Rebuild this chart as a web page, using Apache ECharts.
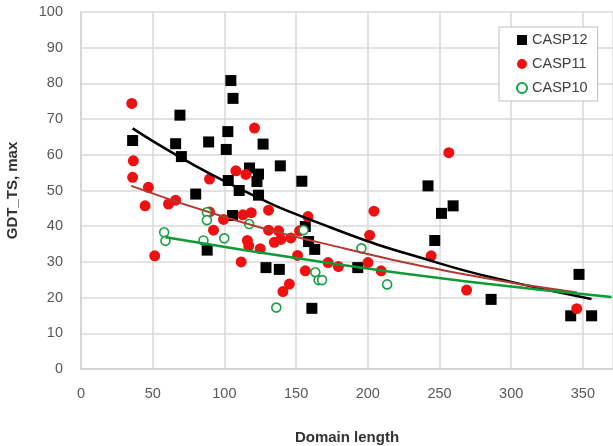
<!DOCTYPE html>
<html>
<head>
<meta charset="utf-8">
<script src="https://cdn.jsdelivr.net/npm/echarts@6/dist/echarts.min.js"></script>
<style>
  html, body { margin: 0; padding: 0; background: #fff; }
  #chart { width: 613px; height: 446px; }
</style>
</head>
<body>
<div id="chart"></div>
<script>
// points: [domain length, GDT_TS max]
const casp12 = [
  [36, 64], [69, 71.1], [66, 63.1], [70, 59.5], [80, 49], [89, 63.6], [88, 33.3],
  [104.5, 80.8], [106, 75.8], [102.4, 66.5], [101.3, 61.5], [102.7, 52.8], [105.7, 43],
  [110.3, 50], [117.5, 56.3], [127, 63], [123.8, 54.6], [122.7, 52.5], [123.8, 48.7],
  [139, 56.9], [154, 52.6], [156.4, 39.9], [158.7, 35.7], [163, 33.5], [129, 28.4],
  [138.3, 27.9], [161, 17], [193, 28.4], [242, 51.3], [251.4, 43.6], [259.5, 45.7],
  [246.7, 36], [286, 19.5], [347.3, 26.5], [341.5, 14.9], [356.1, 14.9]
];
const casp11 = [
  [35.4, 74.4], [36.5, 58.3], [36, 53.7], [47, 50.9], [44.7, 45.7], [61, 46.2], [66, 47.3],
  [51.4, 31.7], [89.6, 53.2], [89.6, 44], [92.4, 38.9], [99.4, 41.9], [108, 55.5],
  [115, 54.5], [112.9, 43.2], [118.7, 43.8], [116, 36], [117, 34.5], [111.7, 30],
  [125, 33.7], [121, 67.5], [130.8, 44.5], [130.8, 38.9], [137.8, 38.7], [134.8, 35.5],
  [139.4, 36.3], [146.4, 36.7], [158.3, 42.7], [152.4, 38.7], [151, 31.8], [156.4, 27.5],
  [172.3, 29.8], [179.5, 28.7], [145.3, 23.8], [140.8, 21.7], [204.3, 44.2], [201.3, 37.5],
  [200.1, 29.8], [209.3, 27.5], [244.2, 31.7], [256.5, 60.6], [268.9, 22.1], [345.7, 16.9]
];
const casp10 = [
  [58, 38.3], [58.9, 35.9], [85.4, 36], [87.8, 43.9], [87.8, 41.7], [99.9, 36.6],
  [117.3, 40.6], [155.2, 38.9], [163.4, 27.1], [165.7, 24.9], [168.1, 24.9],
  [136.2, 17.2], [195.5, 33.8], [213.5, 23.7]
];
// trend lines
const trend12 = [[36, 67.4], [100, 52.6], [175, 39.5], [250, 29.6], [300, 24.4], [356, 19.6]];
const trend11 = [[35, 51.3], [100, 42.6], [174, 34.7], [269, 26.4], [346, 21.4]];
const trend10 = [[59, 36.9], [174, 29.6], [269, 24.5], [370, 20.2]];

let myChart = echarts.init(document.getElementById('chart'));
const font = 'Liberation Sans, Arial, sans-serif';
let option = {
  backgroundColor: '#fff',
  animation: false,
  grid: { left: 81, right: 0, top: 12, bottom: 77, outerBoundsMode: 'none', containLabel: false },
  legend: {
    orient: 'vertical',
    left: 499, top: 27,
    padding: [5, 10, 5, 17],
    itemGap: 8,
    itemWidth: 10, itemHeight: 10,
    backgroundColor: '#fff',
    borderColor: '#bfbfbf', borderWidth: 1,
    textStyle: { fontFamily: font, fontSize: 14.5, color: '#404040', lineHeight: 16 },
    data: [
      { name: 'CASP12', icon: 'rect' },
      { name: 'CASP11', icon: 'circle' },
      { name: 'CASP10', icon: 'circle' }
    ]
  },
  xAxis: {
    type: 'value', min: 0, max: 371, interval: 50,
    name: 'Domain length', nameLocation: 'middle', nameGap: 61,
    nameTextStyle: { fontFamily: font, fontSize: 15, fontWeight: 'bold', color: '#333' },
    axisLine: { show: true, lineStyle: { color: '#d0d0d0', width: 1.5 } },
    axisTick: { show: false },
    axisLabel: { fontFamily: font, fontSize: 14.5, color: '#595959', margin: 17, showMaxLabel: false },
    splitLine: { show: true, lineStyle: { color: '#d9d9d9', width: 1.5 } }
  },
  yAxis: {
    type: 'value', min: 0, max: 100, interval: 10,
    name: 'GDT_TS, max', nameLocation: 'middle', nameGap: 61,
    nameTextStyle: { fontFamily: font, fontSize: 15, fontWeight: 'bold', color: '#333' },
    axisLine: { show: true, lineStyle: { color: '#d0d0d0', width: 1.5 } },
    axisTick: { show: false },
    axisLabel: { fontFamily: font, fontSize: 14.5, color: '#595959', margin: 18 },
    splitLine: { show: true, lineStyle: { color: '#d9d9d9', width: 1.5 } }
  },
  series: [
    {
      name: 'CASP12', type: 'scatter', symbol: 'rect', symbolSize: 11,
      itemStyle: { color: '#000', opacity: 1 }, data: casp12, z: 2
    },
    {
      name: 'CASP11', type: 'scatter', symbol: 'circle', symbolSize: 11,
      itemStyle: { color: '#ee1111', opacity: 1 }, data: casp11, z: 3
    },
    {
      name: 'CASP10', type: 'scatter', symbol: 'circle', symbolSize: 9,
      itemStyle: { color: '#fff', borderColor: '#17a045', borderWidth: 1.6, opacity: 1 },
      data: casp10, z: 4
    },
    {
      name: 'trend12', type: 'line', smooth: true, symbol: 'none', data: trend12, z: 5,
      lineStyle: { color: '#000', width: 2.5 }
    },
    {
      name: 'trend11', type: 'line', smooth: true, symbol: 'none', data: trend11, z: 5,
      lineStyle: { color: '#b23a30', width: 2 }
    },
    {
      name: 'trend10', type: 'line', smooth: true, symbol: 'none', data: trend10, z: 5,
      lineStyle: { color: '#0d9b35', width: 2.5 }
    }
  ]
};
myChart.setOption(option);
</script>
</body>
</html>
